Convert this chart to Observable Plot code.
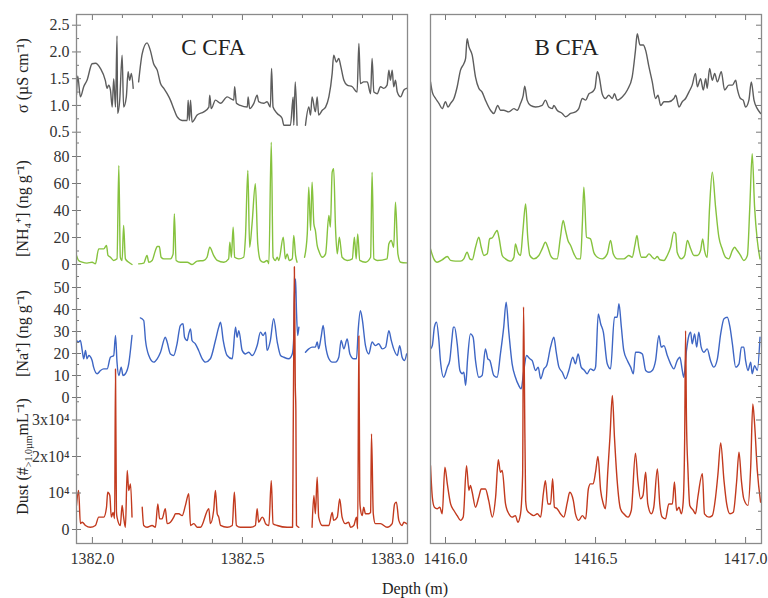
<!DOCTYPE html>
<html><head><meta charset="utf-8">
<script src="https://cdn.jsdelivr.net/npm/d3@7"></script>
<script src="https://cdn.jsdelivr.net/npm/@observablehq/plot@0.6"></script>
<style>
body{margin:0;background:#fff;}
#wrap{position:relative;width:768px;height:598px;font-family:"Liberation Serif",serif;}
#left{position:absolute;left:0;top:0;}
#right{position:absolute;left:420px;top:0;}
#xlabel{position:absolute;left:415px;top:580px;transform:translateX(-50%);font-size:16px;color:#222;white-space:nowrap;}
svg text{font-family:"Liberation Serif",serif;}
</style></head><body>
<div id="wrap"><div id="left"></div><div id="right"></div><div id="xlabel">Depth (m)</div></div>
<script>
// ---------- data: [depth (m), value]; null = gap ----------
const cSigma = [[1381.947,1.20],[1381.951,1.55],[1381.960,1.16],[1381.971,1.35],[1381.982,1.47],[1381.999,1.78],[1382.010,1.79],[1382.027,1.69],[1382.043,1.47],[1382.049,1.32],[1382.054,1.38],[1382.060,1.29],[1382.066,0.97],[1382.071,1.50],[1382.077,0.97],[1382.082,2.30],[1382.084,0.85],[1382.091,1.10],[1382.099,1.94],[1382.104,0.97],[1382.113,1.16],[1382.119,1.63],[1382.124,1.47],[1382.130,1.60],[1382.136,1.32],[1382.145,null],
[1382.154,1.44],[1382.166,1.97],[1382.182,2.17],[1382.193,2.03],[1382.204,1.78],[1382.216,1.66],[1382.227,1.41],[1382.238,1.32],[1382.249,1.22],[1382.260,1.10],[1382.271,0.94],[1382.282,0.79],[1382.299,0.72],[1382.316,0.72],[1382.319,1.10],[1382.323,0.72],[1382.327,1.10],[1382.332,0.69],[1382.349,0.82],[1382.371,0.88],[1382.388,0.97],[1382.391,1.19],[1382.396,0.94],[1382.410,1.10],[1382.427,1.04],[1382.449,1.16],[1382.471,1.10],[1382.474,1.35],[1382.480,1.04],[1382.493,1.00],[1382.516,0.97],[1382.519,1.16],[1382.524,0.94],[1382.538,1.04],[1382.549,1.19],[1382.554,1.07],[1382.571,1.04],[1382.582,1.07],[1382.593,0.97],[1382.597,1.69],[1382.602,0.97],[1382.616,0.85],[1382.632,0.76],[1382.638,0.63],[1382.660,0.63],[1382.669,1.16],[1382.671,0.63],[1382.676,1.44],[1382.682,0.63],[1382.695,null],
[1382.710,0.63],[1382.721,0.97],[1382.727,0.82],[1382.732,1.16],[1382.743,0.88],[1382.749,1.16],[1382.754,0.82],[1382.766,0.91],[1382.777,0.97],[1382.788,1.16],[1382.799,1.60],[1382.804,1.94],[1382.813,1.81],[1382.821,1.88],[1382.827,1.75],[1382.838,1.47],[1382.849,1.38],[1382.866,1.35],[1382.882,1.25],[1382.888,2.16],[1382.893,1.41],[1382.904,1.44],[1382.916,1.44],[1382.927,1.22],[1382.932,1.88],[1382.938,1.25],[1382.949,1.22],[1382.960,1.35],[1382.971,1.32],[1382.982,1.38],[1382.988,1.66],[1382.993,1.47],[1382.999,1.66],[1383.004,1.35],[1383.010,1.47],[1383.016,1.25],[1383.027,1.16],[1383.038,1.29],[1383.047,1.32]];

const cNH4 = [[1381.947,6.7],[1381.954,3.0],[1381.966,1.7],[1381.982,1.0],[1381.999,1.7],[1382.010,0.5],[1382.021,11.6],[1382.038,11.6],[1382.047,14.1],[1382.052,6.7],[1382.060,5.4],[1382.071,3.0],[1382.082,4.2],[1382.088,73.3],[1382.093,5.4],[1382.099,3.0],[1382.104,28.9],[1382.110,4.2],[1382.121,1.7],[1382.132,0],[1382.143,null],
[1382.154,0.5],[1382.171,1.0],[1382.182,6.7],[1382.188,1.7],[1382.199,3.0],[1382.210,10.4],[1382.216,13.3],[1382.223,13.3],[1382.229,5.4],[1382.238,4.2],[1382.260,4.2],[1382.269,7.9],[1382.273,37.5],[1382.279,3.0],[1382.293,1.7],[1382.316,1.7],[1382.332,0],[1382.349,2.5],[1382.371,3.0],[1382.382,5.4],[1382.391,12.8],[1382.404,6.7],[1382.416,3.0],[1382.438,1.7],[1382.454,4.2],[1382.458,16.5],[1382.463,5.4],[1382.469,27.7],[1382.474,5.4],[1382.488,4.2],[1382.504,5.4],[1382.510,20.2],[1382.518,69.6],[1382.524,12.8],[1382.532,30.1],[1382.543,59.8],[1382.551,15.3],[1382.560,3.0],[1382.571,1.7],[1382.582,3.0],[1382.588,0.5],[1382.596,90.6],[1382.602,5.4],[1382.610,3.0],[1382.616,5.4],[1382.621,3.0],[1382.636,20.2],[1382.643,4.2],[1382.649,7.9],[1382.656,3.0],[1382.666,4.2],[1382.671,21.5],[1382.677,6.7],[1382.682,1.7],[1382.695,null],
[1382.707,5.4],[1382.716,22.7],[1382.721,57.3],[1382.727,25.2],[1382.732,61.0],[1382.738,30.1],[1382.743,25.2],[1382.749,14.1],[1382.754,10.4],[1382.766,5.4],[1382.777,7.9],[1382.788,36.3],[1382.793,27.7],[1382.799,68.4],[1382.804,70.9],[1382.810,27.7],[1382.816,7.9],[1382.823,20.2],[1382.832,5.4],[1382.849,3.0],[1382.866,4.2],[1382.873,20.2],[1382.879,4.2],[1382.884,22.7],[1382.891,3.0],[1382.910,1.7],[1382.927,5.4],[1382.932,68.4],[1382.938,4.2],[1382.949,3.0],[1382.982,4.2],[1382.988,15.3],[1382.996,17.8],[1383.004,12.8],[1383.010,46.2],[1383.018,7.9],[1383.027,1.7],[1383.047,1.2]];

const cNa = [[1381.947,25.9],[1381.954,25.2],[1381.960,25.9],[1381.966,21.4],[1381.971,17.6],[1381.977,21.4],[1381.982,17.6],[1381.988,19.1],[1381.999,16.8],[1382.004,13.8],[1382.016,10.8],[1382.027,12.3],[1382.038,13.0],[1382.049,13.0],[1382.060,18.3],[1382.071,19.1],[1382.077,28.2],[1382.082,16.1],[1382.088,10.0],[1382.096,13.8],[1382.102,10.0],[1382.110,10.8],[1382.121,15.3],[1382.132,28.2],[1382.146,null],
[1382.160,36.2],[1382.171,35.0],[1382.177,25.9],[1382.188,19.1],[1382.204,16.1],[1382.216,17.6],[1382.227,20.6],[1382.243,27.4],[1382.249,25.2],[1382.260,19.8],[1382.271,19.1],[1382.282,24.4],[1382.293,32.7],[1382.302,33.5],[1382.307,27.4],[1382.316,25.9],[1382.321,28.9],[1382.327,31.2],[1382.332,25.9],[1382.343,24.4],[1382.354,21.4],[1382.366,17.6],[1382.377,16.1],[1382.393,17.6],[1382.410,25.9],[1382.421,32.0],[1382.427,34.2],[1382.436,25.9],[1382.449,19.1],[1382.466,17.6],[1382.477,32.0],[1382.482,27.4],[1382.488,30.4],[1382.499,21.4],[1382.510,19.8],[1382.521,20.6],[1382.532,19.1],[1382.549,23.6],[1382.560,29.7],[1382.569,28.2],[1382.577,29.7],[1382.582,21.4],[1382.593,25.9],[1382.604,35.8],[1382.616,25.2],[1382.627,19.1],[1382.638,18.3],[1382.654,17.6],[1382.666,19.8],[1382.671,27.4],[1382.673,44.1],[1382.677,53.9],[1382.680,39.5],[1382.684,28.2],[1382.688,32.0],[1382.699,null],
[1382.710,20.6],[1382.721,22.1],[1382.732,22.9],[1382.743,22.9],[1382.749,25.2],[1382.754,22.1],[1382.762,27.4],[1382.769,32.7],[1382.777,23.6],[1382.788,17.6],[1382.799,16.1],[1382.810,16.1],[1382.821,18.3],[1382.829,25.9],[1382.838,22.1],[1382.849,26.6],[1382.858,19.8],[1382.871,17.6],[1382.880,17.6],[1382.886,31.2],[1382.893,39.5],[1382.899,35.8],[1382.910,23.6],[1382.921,19.8],[1382.932,25.2],[1382.943,23.6],[1382.954,24.4],[1382.966,22.1],[1382.977,22.9],[1382.988,30.4],[1382.996,25.9],[1383.004,22.1],[1383.016,19.1],[1383.024,23.6],[1383.032,18.3],[1383.040,16.8],[1383.047,19.8]];

const cDust = [[1381.947,6600],[1381.954,10700],[1381.960,1600],[1381.966,2000],[1381.977,1100],[1381.993,600],[1382.010,1100],[1382.021,3400],[1382.038,3400],[1382.047,6100],[1382.051,10200],[1382.058,9300],[1382.063,3400],[1382.069,4700],[1382.074,3000],[1382.077,44000],[1382.080,5000],[1382.082,3400],[1382.093,1100],[1382.099,6600],[1382.104,3400],[1382.110,600],[1382.116,16200],[1382.121,10700],[1382.127,12500],[1382.132,3400],[1382.148,null],
[1382.166,6100],[1382.171,1100],[1382.182,600],[1382.199,1100],[1382.210,600],[1382.218,7000],[1382.224,2900],[1382.232,2900],[1382.243,5700],[1382.249,1600],[1382.260,2000],[1382.271,3400],[1382.277,4300],[1382.288,4300],[1382.299,3800],[1382.310,6600],[1382.321,9800],[1382.327,1100],[1382.338,1600],[1382.349,600],[1382.360,600],[1382.388,5700],[1382.393,1600],[1382.404,5200],[1382.410,10700],[1382.416,4300],[1382.421,3400],[1382.427,1100],[1382.449,600],[1382.466,1100],[1382.473,10200],[1382.480,1100],[1382.493,600],[1382.527,600],[1382.543,1100],[1382.549,5700],[1382.554,2000],[1382.566,3400],[1382.571,2900],[1382.577,1600],[1382.588,1100],[1382.596,13400],[1382.602,1600],[1382.616,1100],[1382.649,600],[1382.667,600],[1382.669,25000],[1382.671,50000],[1382.673,72000],[1382.676,40000],[1382.678,32600],[1382.680,1100],[1382.688,600],[1382.700,null],
[1382.732,600],[1382.738,9300],[1382.743,4300],[1382.749,14300],[1382.754,3400],[1382.766,1100],[1382.788,1100],[1382.799,4700],[1382.804,2500],[1382.816,3400],[1382.824,8400],[1382.832,3400],[1382.843,1600],[1382.854,2000],[1382.860,600],[1382.871,1100],[1382.880,3400],[1382.884,200],[1382.888,53000],[1382.891,8000],[1382.893,5700],[1382.899,3800],[1382.904,6100],[1382.910,4300],[1382.921,4300],[1382.927,4700],[1382.930,26200],[1382.936,4300],[1382.943,1600],[1382.960,1600],[1382.982,600],[1382.999,1600],[1383.007,7000],[1383.013,7500],[1383.021,2500],[1383.032,1100],[1383.038,2000],[1383.047,1600]];

const bSigma = [[1415.950,1.44],[1415.956,1.25],[1415.967,1.13],[1415.978,1.04],[1415.989,0.94],[1416.000,1.07],[1416.008,0.97],[1416.017,1.04],[1416.028,1.13],[1416.039,1.35],[1416.050,1.66],[1416.061,1.78],[1416.067,1.88],[1416.072,2.25],[1416.078,2.10],[1416.089,1.94],[1416.100,1.53],[1416.111,1.32],[1416.122,1.25],[1416.133,1.10],[1416.150,0.91],[1416.161,0.85],[1416.174,1.00],[1416.183,0.91],[1416.194,0.91],[1416.211,0.88],[1416.228,0.94],[1416.239,0.91],[1416.250,1.04],[1416.259,1.19],[1416.264,1.36],[1416.272,1.10],[1416.283,1.00],[1416.300,0.97],[1416.322,1.00],[1416.333,1.10],[1416.344,0.97],[1416.356,0.94],[1416.361,1.00],[1416.372,0.91],[1416.389,0.85],[1416.400,0.79],[1416.417,0.85],[1416.433,0.88],[1416.444,0.94],[1416.456,1.13],[1416.467,1.10],[1416.478,1.22],[1416.489,1.25],[1416.498,1.32],[1416.506,1.63],[1416.511,1.57],[1416.522,1.22],[1416.533,1.13],[1416.544,1.19],[1416.556,1.13],[1416.563,1.22],[1416.572,1.10],[1416.589,1.16],[1416.606,1.29],[1416.622,1.53],[1416.633,2.03],[1416.639,2.34],[1416.648,2.13],[1416.659,2.13],[1416.667,2.03],[1416.678,1.72],[1416.689,1.44],[1416.700,1.13],[1416.708,1.19],[1416.717,1.00],[1416.728,1.07],[1416.744,1.07],[1416.761,1.13],[1416.767,1.19],[1416.778,0.97],[1416.789,1.07],[1416.800,1.13],[1416.811,1.25],[1416.822,1.38],[1416.833,1.60],[1416.839,1.35],[1416.850,1.50],[1416.859,1.29],[1416.867,1.50],[1416.872,1.32],[1416.880,1.69],[1416.889,1.47],[1416.897,1.60],[1416.906,1.44],[1416.919,1.63],[1416.930,1.29],[1416.944,1.38],[1416.956,1.38],[1416.967,1.47],[1416.972,1.32],[1416.983,1.13],[1416.992,1.10],[1417.000,0.97],[1417.011,1.10],[1417.019,1.44],[1417.028,1.10],[1417.039,0.94],[1417.050,0.85]];

const bNH4 = [[1415.950,11.6],[1415.961,4.2],[1415.972,1.7],[1415.989,3.5],[1416.006,5.9],[1416.017,3.0],[1416.033,2.5],[1416.050,2.5],[1416.061,4.2],[1416.072,9.1],[1416.081,4.2],[1416.089,3.5],[1416.100,12.8],[1416.111,20.2],[1416.119,12.8],[1416.128,6.7],[1416.139,7.9],[1416.147,19.0],[1416.156,19.8],[1416.167,24.0],[1416.172,25.2],[1416.178,20.2],[1416.189,6.7],[1416.200,4.2],[1416.217,2.5],[1416.228,5.4],[1416.233,15.3],[1416.241,9.1],[1416.250,6.7],[1416.258,25.2],[1416.267,44.9],[1416.274,20.2],[1416.281,6.7],[1416.294,4.2],[1416.311,6.7],[1416.322,11.6],[1416.333,16.5],[1416.341,12.8],[1416.350,6.7],[1416.361,4.2],[1416.372,4.2],[1416.383,20.2],[1416.392,32.6],[1416.400,25.2],[1416.408,17.8],[1416.417,14.1],[1416.428,7.9],[1416.439,4.2],[1416.450,4.2],[1416.456,30.1],[1416.461,57.3],[1416.470,20.2],[1416.483,19.0],[1416.494,9.1],[1416.506,5.4],[1416.522,4.2],[1416.539,7.9],[1416.550,17.8],[1416.559,7.9],[1416.572,4.2],[1416.594,4.2],[1416.611,6.7],[1416.622,5.4],[1416.631,14.1],[1416.638,21.5],[1416.644,12.8],[1416.653,5.4],[1416.667,5.4],[1416.678,7.9],[1416.689,5.4],[1416.697,4.2],[1416.706,5.9],[1416.714,3.5],[1416.728,3.0],[1416.739,6.7],[1416.750,12.8],[1416.761,24.0],[1416.767,22.7],[1416.772,9.1],[1416.786,4.2],[1416.797,6.7],[1416.806,17.8],[1416.817,11.6],[1416.828,6.7],[1416.839,6.7],[1416.850,10.4],[1416.857,19.0],[1416.863,10.4],[1416.872,5.4],[1416.880,42.5],[1416.889,68.4],[1416.900,42.5],[1416.911,20.2],[1416.922,11.6],[1416.933,5.4],[1416.944,4.2],[1416.956,10.4],[1416.963,12.8],[1416.972,10.4],[1416.983,6.7],[1416.994,3.0],[1417.006,6.7],[1417.014,42.5],[1417.022,82.0],[1417.030,42.5],[1417.039,17.8],[1417.048,4.2]];

const bNa = [[1415.950,22.1],[1415.956,23.6],[1415.963,32.0],[1415.970,34.2],[1415.978,25.9],[1415.983,16.8],[1415.994,9.2],[1416.006,13.8],[1416.014,16.8],[1416.022,27.4],[1416.026,32.0],[1416.030,32.0],[1416.039,24.4],[1416.048,12.3],[1416.056,10.8],[1416.061,11.5],[1416.067,5.5],[1416.074,18.3],[1416.083,28.9],[1416.092,27.4],[1416.100,16.8],[1416.111,9.2],[1416.122,10.0],[1416.133,22.1],[1416.141,17.6],[1416.148,16.8],[1416.161,10.0],[1416.172,9.2],[1416.183,19.8],[1416.194,32.0],[1416.202,43.3],[1416.211,29.7],[1416.222,15.3],[1416.233,9.2],[1416.244,5.5],[1416.252,3.9],[1416.261,12.3],[1416.270,19.1],[1416.281,17.6],[1416.289,16.8],[1416.300,12.3],[1416.309,13.8],[1416.317,8.5],[1416.328,13.0],[1416.337,14.5],[1416.350,22.9],[1416.361,27.4],[1416.369,20.6],[1416.378,13.8],[1416.389,11.5],[1416.400,8.5],[1416.411,12.3],[1416.424,18.3],[1416.433,15.3],[1416.442,19.8],[1416.452,13.8],[1416.463,12.3],[1416.472,10.8],[1416.483,13.0],[1416.494,12.3],[1416.500,13.8],[1416.509,38.0],[1416.517,33.5],[1416.526,29.7],[1416.539,15.3],[1416.550,13.0],[1416.563,36.5],[1416.572,36.5],[1416.578,42.6],[1416.586,32.0],[1416.594,21.4],[1416.606,16.8],[1416.617,13.8],[1416.626,10.8],[1416.633,20.6],[1416.644,20.6],[1416.656,19.8],[1416.667,12.3],[1416.678,11.5],[1416.689,12.3],[1416.700,16.8],[1416.711,28.2],[1416.719,22.9],[1416.728,23.6],[1416.739,19.1],[1416.750,15.3],[1416.761,13.0],[1416.772,16.8],[1416.781,18.3],[1416.789,12.3],[1416.794,9.2],[1416.803,21.4],[1416.811,28.2],[1416.817,29.7],[1416.822,24.4],[1416.830,28.9],[1416.837,22.9],[1416.844,29.7],[1416.852,22.9],[1416.861,20.6],[1416.872,22.1],[1416.883,16.8],[1416.894,13.8],[1416.906,17.6],[1416.917,28.9],[1416.928,35.8],[1416.939,36.5],[1416.948,32.0],[1416.956,24.4],[1416.967,13.8],[1416.978,15.3],[1416.986,22.9],[1416.994,22.9],[1417.000,16.8],[1417.008,12.3],[1417.017,16.1],[1417.022,10.8],[1417.030,14.5],[1417.039,12.3],[1417.048,27.4]];

const bDust = [[1415.950,17500],[1415.956,8900],[1415.963,6100],[1415.972,5700],[1415.981,6100],[1415.989,4300],[1415.998,17100],[1416.006,12500],[1416.017,7000],[1416.028,5200],[1416.039,3800],[1416.050,2500],[1416.059,3400],[1416.070,17500],[1416.078,10700],[1416.083,12100],[1416.089,10200],[1416.100,6100],[1416.111,8900],[1416.119,11100],[1416.133,11100],[1416.144,7900],[1416.156,3400],[1416.167,8900],[1416.176,19100],[1416.183,15700],[1416.189,16200],[1416.200,7000],[1416.211,4300],[1416.222,3400],[1416.233,3800],[1416.241,2000],[1416.250,4300],[1416.257,15000],[1416.260,61000],[1416.263,40000],[1416.267,8000],[1416.272,5200],[1416.283,4300],[1416.294,3800],[1416.306,4300],[1416.317,3400],[1416.326,9800],[1416.333,13400],[1416.341,7000],[1416.350,7000],[1416.357,13900],[1416.363,6100],[1416.372,5700],[1416.383,4300],[1416.394,3400],[1416.406,7500],[1416.414,10200],[1416.426,7900],[1416.433,4300],[1416.444,2500],[1416.456,3800],[1416.467,2900],[1416.476,11100],[1416.483,12500],[1416.492,12500],[1416.500,15700],[1416.508,20000],[1416.517,10700],[1416.526,7000],[1416.533,5700],[1416.541,16200],[1416.548,25300],[1416.556,36700],[1416.563,25300],[1416.572,13400],[1416.583,5700],[1416.594,4300],[1416.608,3400],[1416.619,5200],[1416.633,20900],[1416.641,13400],[1416.650,8400],[1416.658,9300],[1416.667,15700],[1416.674,7000],[1416.686,4300],[1416.694,6100],[1416.706,16600],[1416.714,7000],[1416.722,3400],[1416.733,2900],[1416.744,7000],[1416.756,7000],[1416.763,13000],[1416.770,5200],[1416.778,6100],[1416.786,4300],[1416.792,7500],[1416.797,25000],[1416.800,54500],[1416.803,30000],[1416.808,16200],[1416.814,6600],[1416.826,5200],[1416.833,4300],[1416.841,8900],[1416.856,15300],[1416.863,4300],[1416.878,3400],[1416.889,3800],[1416.900,8900],[1416.908,15300],[1416.917,23700],[1416.928,13400],[1416.937,7000],[1416.948,4300],[1416.959,4700],[1416.970,13000],[1416.978,21200],[1416.986,13400],[1416.994,8400],[1417.008,6600],[1417.017,17100],[1417.024,34400],[1417.030,28900],[1417.039,16200],[1417.050,7500]];

// tick values and labels (left panel y axis)
const sigmaTicks = [0.5, 1.0, 1.5, 2.0, 2.5];
const sigmaLabels = ["0.5", "1.0", "1.5", "2.0", "2.5"];
const nh4Ticks = [0, 20, 40, 60, 80];
const nh4Labels = ["0", "20", "40", "60", "80"];
const naTicks = [0, 10, 20, 30, 40, 50];
const naLabels = ["0", "10", "20", "30", "40", "50"];
const dustTicks = [0, 10000, 20000, 30000];
const dustLabels = ["0", "10⁴", "2x10⁴", "3x10⁴"];
const xTicksC = [1382.0, 1382.5, 1383.0];
const xTicksB = [1416.0, 1416.5, 1417.0];
const titles = ["σ (µS cm⁻¹)", "[NH₄⁺] (ng g⁻¹)", "[Na⁺] (ng g⁻¹)", "Dust (#>1.0µm mL⁻¹)"];
const panelNames = ["C CFA", "B CFA"];

// ---------- layout (vertical offset track per series, pixel space) ----------
const FONT = "Liberation Serif";
const H = 575, TOP = 14, BOTTOM = 543;
const tracks = {
  sigma: {zero: 158.45, k: 53.5, minor: 0.25, min: 0.5, max: 2.5, title: 75, ticks: sigmaTicks, labels: sigmaLabels},
  nh4:   {zero: 264, k: 1.35, minor: 10, min: 0, max: 90, title: 208, ticks: nh4Ticks, labels: nh4Labels},
  na:    {zero: 397, k: 2.2, minor: 5, min: 0, max: 55, title: 333, ticks: naTicks, labels: naLabels},
  dust:  {zero: 529, k: 36.5 / 1e4, minor: 5000, min: 0, max: 35000, title: 456, ticks: dustTicks, labels: dustLabels}
};
const order = ["sigma", "nh4", "na", "dust"];
const pos = (t, v) => v == null ? NaN : tracks[t].zero - v * tracks[t].k;
const colors = {sigma: "#5d5d5d", nh4: "#86c23e", na: "#3e66c4", dust: "#c23a1e"};

function panel({width, ml, mr, xDomain, xTicks, series, name, nameX, leftAxis}) {
  const pxX = (xDomain[1] - xDomain[0]) / (width - ml - mr);
  const marks = [];
  const tickColor = "#777";
  const major = [], minor = [], labelOf = new Map();
  for (const t of order) {
    const tr = tracks[t];
    tr.ticks.forEach((v, i) => { const p = pos(t, v); major.push(p); labelOf.set(p, tr.labels[i]); });
    for (let v = tr.min; v <= tr.max + 1e-9; v += tr.minor) {
      if (!tr.ticks.some(m => Math.abs(m - v) < 1e-9)) minor.push(pos(t, v));
    }
  }
  for (const t of ["sigma", "nh4", "na", "dust"]) {
    marks.push(Plot.line(series[t], {x: d => d[0], y: d => pos(t, d[1]), stroke: colors[t], strokeWidth: 1.4, curve: "monotone-x", clip: true}));
  }
  const xMin = d3.range(Math.ceil(xDomain[0] * 10 - 1e-9), Math.floor(xDomain[1] * 10 + 1e-9) + 1).map(i => i / 10);
  const isMaj = d => xTicks.some(m => Math.abs(m - d) < 1e-6);
  marks.push(Plot.ruleX(xMin, {x: d => d, y1: BOTTOM, y2: d => BOTTOM - (isMaj(d) ? 6 : 4), stroke: tickColor}));
  marks.push(Plot.ruleX(xMin, {x: d => d, y1: TOP, y2: d => TOP + (isMaj(d) ? 6 : 4), stroke: tickColor}));
  const edge = leftAxis ? xDomain[0] : xDomain[1];
  const dir = leftAxis ? 1 : -1;
  marks.push(Plot.ruleY(major, {y: d => d, x1: edge, x2: edge + dir * 5 * pxX, stroke: tickColor}));
  marks.push(Plot.ruleY(minor, {y: d => d, x1: edge, x2: edge + dir * 3 * pxX, stroke: tickColor}));
  marks.push(Plot.frame({stroke: "#8a8a8a", strokeWidth: 1.3}));
  if (leftAxis) {
    marks.push(Plot.axisY(major, {anchor: "left", tickSize: 4, tickPadding: 3, tickFormat: p => labelOf.get(p), label: null, stroke: tickColor, fontSize: 16, fontFamily: FONT, fill: "#333"}));
    marks.push(Plot.text(order.map((t, i) => ({t: titles[i], y: tracks[t].title})), {text: "t", y: "y", frameAnchor: "left", textAnchor: "middle", dx: -54, rotate: -90, fontSize: 16, fontFamily: FONT, fill: "#222"}));
  }
  marks.push(Plot.axisX(xTicks, {anchor: "bottom", tickSize: 0, tickPadding: 9, tickFormat: d => d.toFixed(1), label: null, fontSize: 16, fontFamily: FONT, fill: "#333"}));
  marks.push(Plot.text([name], {x: nameX, y: 47, text: d => d, fontSize: 23, fontFamily: FONT, fill: "#222"}));
  const svg = Plot.plot({
    width, height: H, marginLeft: ml, marginRight: mr, marginTop: TOP, marginBottom: H - BOTTOM,
    x: {domain: xDomain},
    y: {domain: [BOTTOM, TOP], axis: leftAxis ? undefined : null},
    style: {fontFamily: FONT, fontSize: "16px", background: "transparent", overflow: "visible"},
    marks
  });
  svg.querySelectorAll("text").forEach(t => {
    if (t.textContent === titles[3]) {
      t.textContent = "";
      const add = (s, attrs = {}) => {
        const ts = document.createElementNS("http://www.w3.org/2000/svg", "tspan");
        ts.textContent = s;
        for (const k in attrs) ts.setAttribute(k, attrs[k]);
        t.appendChild(ts);
      };
      add("Dust (#");
      add(">1.0µm", {"font-size": "10", dy: "4"});
      add("mL⁻¹)", {dy: "-4"});
    }
  });
  return svg;
}

document.getElementById("left").appendChild(panel({
  width: 420, ml: 76, mr: 13, xDomain: [1381.947, 1383.050], xTicks: xTicksC,
  series: {sigma: cSigma, nh4: cNH4, na: cNa, dust: cDust}, name: panelNames[0], nameX: 1382.403, leftAxis: true
}));
document.getElementById("right").appendChild(panel({
  width: 348, ml: 10, mr: 7, xDomain: [1415.950, 1417.053], xTicks: xTicksB,
  series: {sigma: bSigma, nh4: bNH4, na: bNa, dust: bDust}, name: panelNames[1], nameX: 1416.403, leftAxis: false
}));
</script>
</body></html>
